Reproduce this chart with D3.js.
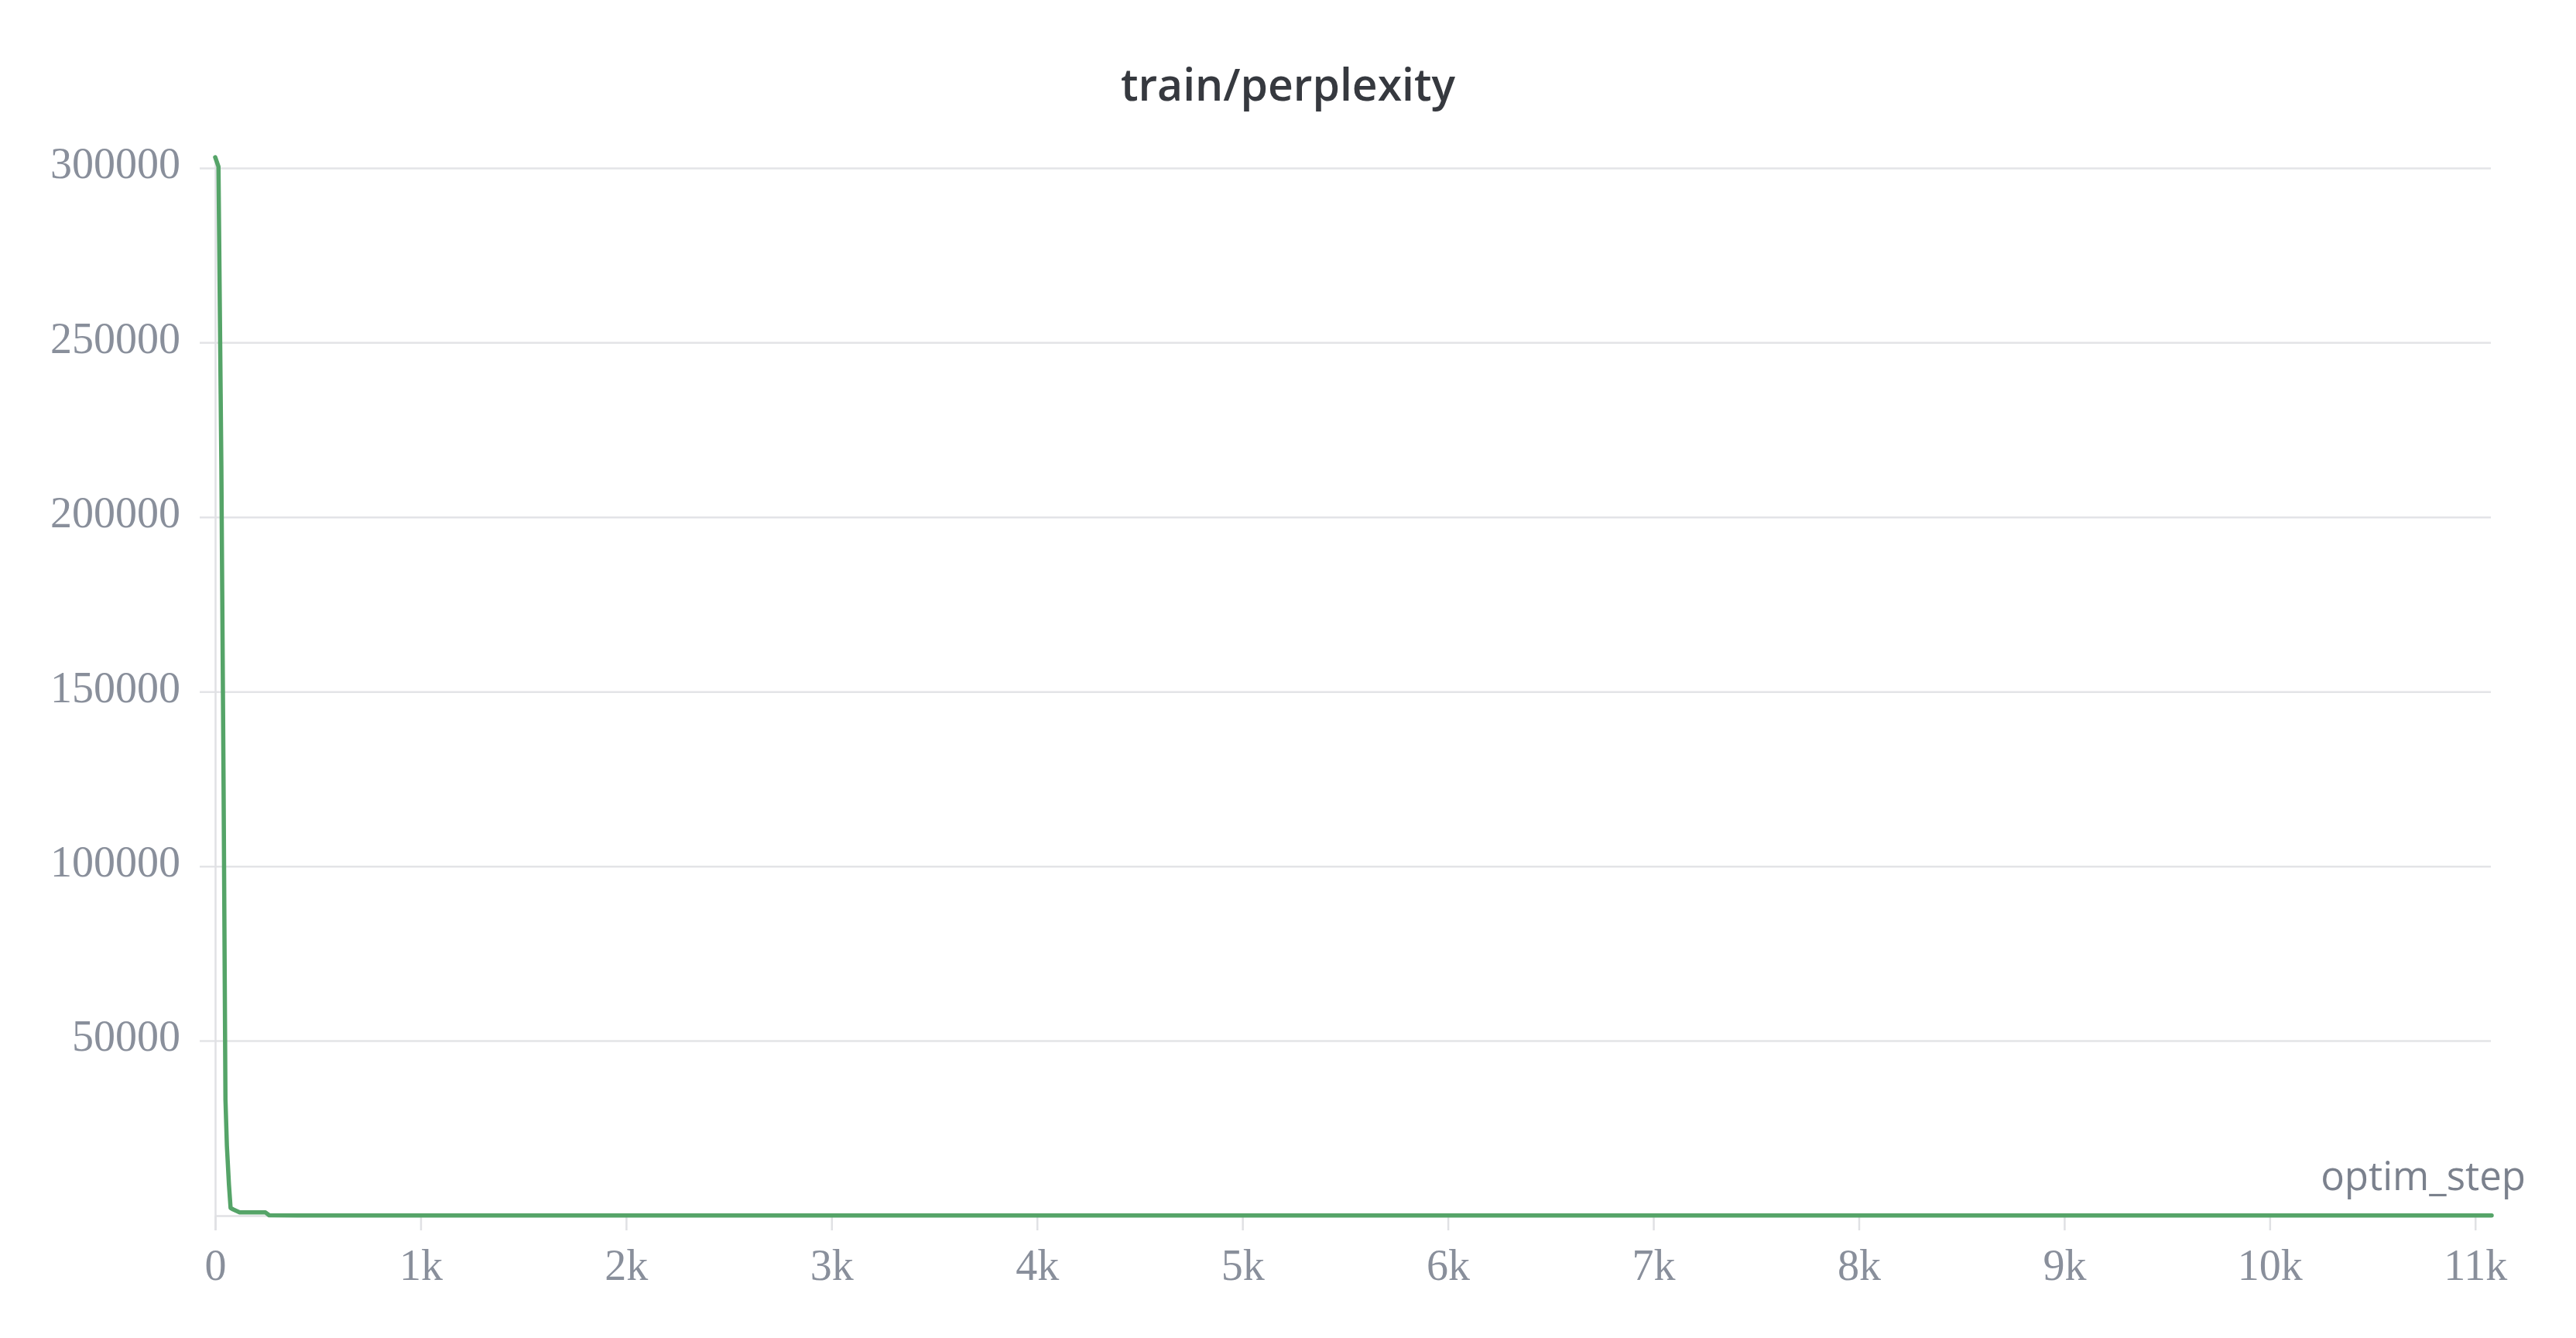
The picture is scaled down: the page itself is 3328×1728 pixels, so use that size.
<!DOCTYPE html>
<html>
<head>
<meta charset="utf-8">
<script src="https://cdn.jsdelivr.net/npm/d3@7"></script>
<style>
	body { margin: 0; background: #fff; }
</style>
</head>
<body>
<svg></svg>
<script>
// train/perplexity

let svgWidth = 3328;
let svgHeight = 1728;

let steps = [0, 16, 30, 41, 50, 57, 67, 75, 88, 119, 180, 245, 263, 400, 1000, 2000, 3000, 4000, 5000, 6000, 7000, 8000, 9000, 10000, 11080];
let perplexity = [303200, 300500, 215000, 122000, 33300, 20000, 8900, 2200, 1770, 950, 930, 920, 120, 80, 55, 45, 40, 37, 35, 33, 32, 31, 30, 29, 28];

let xTicks = [0, 1000, 2000, 3000, 4000, 5000, 6000, 7000, 8000, 9000, 10000, 11000];
let yTicks = [50000, 100000, 150000, 200000, 250000, 300000];

let plotLeft = 278, plotRight = 3219, plotTop = 203, plotBottom = 1570;

let svg = d3.select('svg')
	.attr("width", svgWidth)
	.attr("height", svgHeight);

let xScale = d3.scaleLinear()
	.domain([0, d3.max(steps)])
	.range([plotLeft, plotRight]);

let yScale = d3.scaleLinear()
	.domain([0, d3.max(perplexity)])
	.range([plotBottom, plotTop]);

//grid

svg.append("g").selectAll("line")
	.data(yTicks)
	.enter()
	.append("line")
	.attr("x1", plotLeft - 20)
	.attr("x2", plotRight - 1)
	.attr("y1", d => yScale(d))
	.attr("y2", d => yScale(d))
	.attr("stroke", "#e3e4e7")
	.attr("stroke-width", 2.5);

//axes

let xAxis = svg.append("g")
	.attr("transform", "translate(0," + plotBottom + ")")
	.call(d3.axisBottom(xScale)
		.tickValues(xTicks)
		.tickSizeInner(19)
		.tickSizeOuter(0)
		.tickPadding(24)
		.tickFormat(d => d === 0 ? "0" : (d / 1000) + "k"));

let yAxis = svg.append("g")
	.attr("transform", "translate(" + plotLeft + ",0)")
	.call(d3.axisLeft(yScale)
		.tickValues(yTicks)
		.tickSize(0)
		.tickPadding(45)
		.tickFormat(d3.format("d")));

svg.selectAll(".domain, .tick line")
	.attr("stroke", "#e0e1e4")
	.attr("stroke-width", 2.5);

yAxis.select(".domain").attr("d", "M0.5," + plotTop + "V" + (plotBottom + 19));

svg.selectAll(".tick text")
	.attr("fill", "#898f9b")
	.style("font-family", "'Liberation Serif', serif")
	.style("font-size", "56px");

yAxis.selectAll(".tick text").attr("dy", "0.22em");

//line

let line = d3.line()
	.x((d, i) => xScale(steps[i]))
	.y(d => yScale(d));

svg.append("path")
	.datum(perplexity)
	.attr("d", line)
	.attr("fill", "none")
	.attr("stroke", "#55a468")
	.attr("stroke-width", 5.5)
	.attr("stroke-linejoin", "round")
	.attr("stroke-linecap", "round");

//labels

svg.append("text")
	.text("train/perplexity")
	.attr("x", svgWidth / 2)
	.attr("y", 130)
	.attr("text-anchor", "middle")
	.attr("fill", "#36393f")
	.style("font-family", "'Open Sans', sans-serif")
	.style("font-weight", 600)
	.style("font-size", "57px");

svg.append("text")
	.text("optim_step")
	.attr("x", 3263)
	.attr("y", 1537)
	.attr("text-anchor", "end")
	.attr("fill", "#7b818d")
	.style("font-family", "'Open Sans', sans-serif")
	.style("font-size", "51px");
</script>
</body>
</html>
